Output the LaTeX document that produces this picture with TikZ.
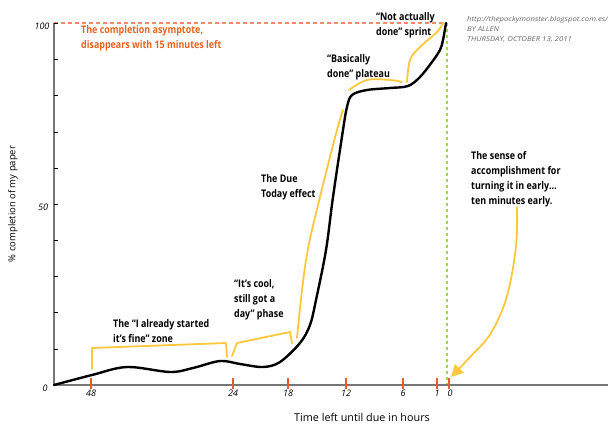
\documentclass[tikz,border=0pt]{standalone}
\usepackage{fontspec}
\setmainfont{Open Sans}
\newfontfamily\lblfont[FakeStretch=0.85]{Open Sans}
\newfontfamily\creditfont[FakeStretch=1.16]{Open Sans}
\usetikzlibrary{arrows.meta}
\definecolor{axisgrey}{HTML}{777777}
\definecolor{hiyellow}{HTML}{FFC83C}
\definecolor{asymorange}{HTML}{E8621E}
\definecolor{dashorange}{HTML}{F58B6A}
\definecolor{tickred}{HTML}{F05A28}
\definecolor{duegreen}{HTML}{9ED36A}
\definecolor{creditgrey}{HTML}{666666}
\begin{document}
\begin{tikzpicture}[x=1pt,y=-1pt,
  lbl/.style={font=\lblfont\bfseries\fontsize{10.5}{15}\selectfont, align=left, anchor=base west, inner sep=0pt},
  credit/.style={font=\creditfont\itshape\fontsize{6.7}{10}\selectfont, text=creditgrey, anchor=base west, inner sep=0pt},
  numlbl/.style={font=\itshape\fontsize{9}{10}\selectfont, inner sep=0pt},
  axislbl/.style={font=\fontsize{9.5}{11}\selectfont, inner sep=0pt},
  axisline/.style={draw=axisgrey, line width=1.6pt},
  ytick/.style={draw=black, line width=0.8pt},
  xtick/.style={draw=tickred, line width=1.1pt},
  hl/.style={draw=hiyellow, line width=1.8pt, line cap=round, line join=round},
  curve/.style={draw=black, line width=2.4pt, line cap=round}
]
\useasboundingbox (0,0) rectangle (608,426);
% guide lines
\draw[dashorange, line width=1.5pt, dash pattern=on 4pt off 3pt] (54,23) -- (447,23);
\draw[duegreen, line width=1.2pt, dash pattern=on 3pt off 3pt] (447,23) -- (447,384);
% axes
\draw[axisline] (54,23) -- (54,385) -- (608,385);
\foreach \yy in {23,59,95,132,168,204,240,276,312,349}
  \draw[ytick] (54,\yy) -- (58,\yy);
\foreach \xx in {91,233,288,346,403,437,449}
  \draw[xtick] (\xx,378) -- (\xx,389);
% axis numbers
\node[numlbl] (y100) at (42,26) {100};
\node[numlbl] (y50) at (43,207) {50};
\node[numlbl] (y0) at (45,388) {0};
\node[numlbl] (x48) at (91,393) {48};
\node[numlbl] (x24) at (233,393) {24};
\node[numlbl] (x18) at (288,393) {18};
\node[numlbl] (x12) at (346,393) {12};
\node[numlbl] (x6) at (403,393) {6};
\node[numlbl] (x1) at (437,393) {1};
\node[numlbl] (x0) at (450,393) {0};
% axis titles
\node[axislbl, rotate=90] (ytitle) at (13,204) {\% completion of my paper};
\node[axislbl, font=\fontsize{10.8}{12}\selectfont] (xtitle) at (362,417) {Time left until due in hours};
% main curve
\draw[curve] plot[smooth, tension=0.55] coordinates {
  (54,385) (92,375) (127,367) (170,372) (193,368) (220,361) (240,364)
  (263,367) (280,362) (300,343) (310,325) (316,300) (326,250) (333,197)
  (343,130) (347,107) (352,95) (367,90) (390,88) (408,86) (420,77)
  (432,62) (440,50) (443,40) (446,23)};
% yellow annotations
\draw[hl] (92,369) -- (92,348) -- (226,343) -- (227,357);
\draw[hl] (232,356) -- (237,343) -- (290,332) -- (292,343);
\draw[hl] plot[smooth, tension=0.6] coordinates {(297,338) (306,260) (320,197) (337,130) (343,110)};
\draw[hl] plot[smooth, tension=0.6] coordinates {(349,90) (367,80) (390,80) (402,82)};
\draw[hl] plot[smooth, tension=0.6] coordinates {(407,82) (410,60) (420,47) (437,32) (443,23)};
\draw[hl, -{Triangle[length=12pt,width=12pt]}] plot[smooth, tension=0.6] coordinates {(517,207) (516,246) (507,296) (491,333) (471,356) (451,377)};
% labels (anchor = baseline of last line)
\node[lbl, text=asymorange] (asym) at (81,48) {The completion asymptote,\\disappears with 15 minutes left};
\node[lbl] (sprint) at (376,35) {“Not actually\\done” sprint};
\node[lbl] (plateau) at (327,77) {“Basically\\done” plateau};
\node[lbl] (due) at (261,197) {The Due\\Today effect};
\node[lbl] (sense) at (471,204) {The sense of\\accomplishment for\\turning it in early…\\ten minutes early.};
\node[lbl] (zone) at (113,342) {The “I already started\\it’s fine” zone};
\node[lbl] (cool) at (234,317) {“It’s cool,\\still got a\\day” phase};
% credit
\node[credit] (url) at (467,21) {http://thepockymonster.blogspot.com.es/};
\node[credit] (by) at (467,31) {BY ALLEN};
\node[credit] (date) at (467,41) {THURSDAY, OCTOBER 13, 2011};
\end{tikzpicture}
\end{document}
